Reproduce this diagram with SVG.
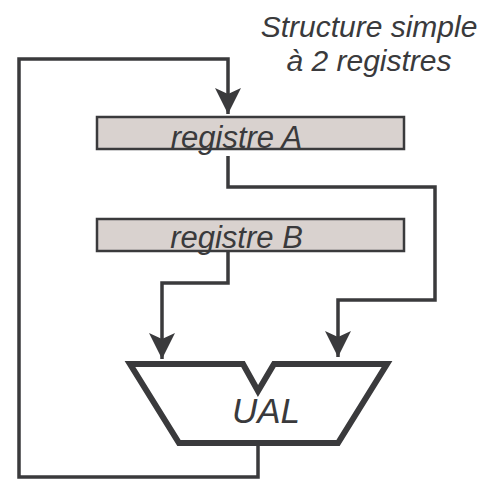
<svg xmlns="http://www.w3.org/2000/svg" width="491" height="479" viewBox="0 0 491 479">
  <style>
    .txt { font-family: "Liberation Sans", Arial, sans-serif; font-style: italic; fill: #3a3a3c; text-anchor: middle; }
    .reg { fill: #d9d2cf; stroke: #3a3a3c; stroke-width: 2.5; }
    .wire { fill: none; stroke: #3a3a3c; stroke-width: 3.5; stroke-linejoin: miter; }
    .alu { fill: #ffffff; stroke: #3a3a3c; stroke-width: 6; stroke-linejoin: miter; }
  </style>
  <defs>
    <marker id="arrow" markerUnits="userSpaceOnUse" markerWidth="28" markerHeight="26" refX="26" refY="13" orient="auto">
      <path d="M0,0 L26,13 L0,26 L6,13 Z" fill="#3a3a3c"/>
    </marker>
  </defs>

  <rect width="491" height="479" fill="#ffffff"/>

  <g id="title">
    <text class="txt" x="369" y="37" font-size="30">Structure simple</text>
    <text class="txt" x="369" y="71" font-size="30">à 2 registres</text>
  </g>

  <g id="connectors">
    <!-- ALU output fed back to register A -->
    <path class="wire" d="M258,443 V477 H19 V59 H228 V114" marker-end="url(#arrow)"/>
    <!-- register A to right ALU input -->
    <path class="wire" d="M228,156 V187 H435 V300 H338 V357" marker-end="url(#arrow)"/>
    <!-- register B to left ALU input -->
    <path class="wire" d="M228,252 V283 H162 V359" marker-end="url(#arrow)"/>
  </g>

  <g id="registreA">
    <rect class="reg" x="97" y="117" width="307" height="32"/>
    <text class="txt" x="236.5" y="148" font-size="31">registre A</text>
  </g>

  <g id="registreB">
    <rect class="reg" x="97" y="219" width="307" height="32"/>
    <text class="txt" x="236.5" y="248" font-size="31">registre B</text>
  </g>

  <g id="ual">
    <path class="alu" d="M130,364 H243 L258,391 L274,364 H387 L338,443 H179 Z"/>
    <text class="txt" x="266" y="423" font-size="35">UAL</text>
  </g>
</svg>
